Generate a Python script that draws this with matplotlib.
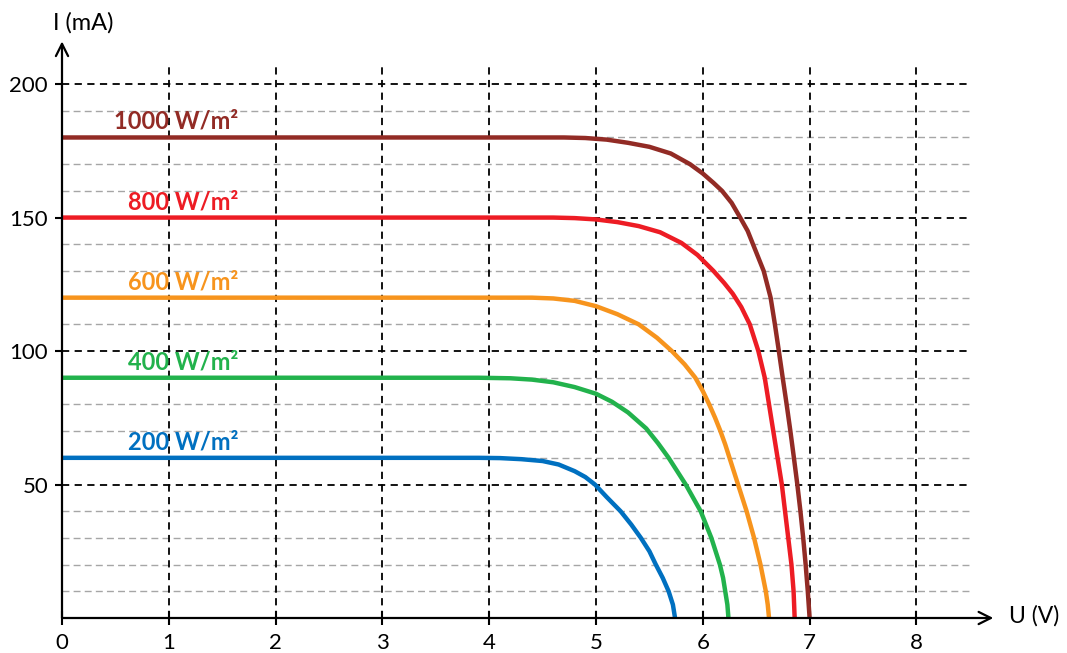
import matplotlib.pyplot as plt

plt.rcParams['font.family'] = ['Lato', 'DejaVu Sans']

# I-V curves: voltage (V) and current (mA)
v_1000 = [0, 4.7, 4.9, 5.1, 5.3, 5.5, 5.7, 5.88, 6.0, 6.1, 6.18, 6.27, 6.35, 6.42, 6.47,
          6.52, 6.57, 6.635, 6.675, 6.712, 6.748, 6.785, 6.82, 6.853, 6.885, 6.914, 6.94, 6.963, 6.983, 7.0]
i_1000 = [180, 180, 179.8, 179.2, 178, 176.5, 174, 170, 166.5, 163, 160, 155.5, 150, 145, 140,
          135, 130, 120, 110, 100, 90, 80, 70, 60, 50, 40, 30, 20, 10, 0]

v_800 = [0, 4.6, 4.8, 5.0, 5.2, 5.4, 5.6, 5.8, 5.95, 6.1, 6.2, 6.28, 6.36, 6.44, 6.52,
         6.58, 6.62, 6.66, 6.70, 6.74, 6.77, 6.80, 6.83, 6.85, 6.86]
i_800 = [150, 150, 149.8, 149.3, 148.3, 146.8, 144.5, 140.5, 136, 130, 125.5, 121.5, 116.5, 110, 100,
         90, 80, 70, 60, 50, 40, 30, 20, 10, 0]

v_600 = [0, 4.4, 4.6, 4.8, 5.0, 5.2, 5.4, 5.57, 5.71, 5.83, 5.93, 6.0, 6.06, 6.115, 6.165,
         6.21, 6.25, 6.29, 6.33, 6.37, 6.41, 6.445, 6.48, 6.51, 6.54, 6.565, 6.59, 6.608, 6.62]
i_600 = [120, 120, 119.7, 118.8, 116.8, 113.8, 110, 105, 100, 95, 90, 85, 80, 75, 70,
         65, 60, 55, 50, 45, 40, 35, 30, 25, 20, 15, 10, 5, 0]

v_400 = [0, 3.9, 4.2, 4.4, 4.6, 4.8, 5.0, 5.15, 5.3, 5.47, 5.58, 5.68, 5.76, 5.84, 5.91,
         5.98, 6.03, 6.08, 6.12, 6.16, 6.19, 6.21, 6.23, 6.24]
i_400 = [90, 90, 89.8, 89.3, 88.3, 86.5, 84, 81, 77, 71, 65.5, 60, 55, 50, 45,
         40, 35, 30, 25, 20, 15, 10, 5, 0]

v_200 = [0, 3.9, 4.1, 4.3, 4.5, 4.65, 4.8, 4.9, 4.99, 5.1, 5.23, 5.33, 5.42, 5.5, 5.56,
         5.625, 5.68, 5.72, 5.74]
i_200 = [60, 60, 59.9, 59.5, 58.8, 57.5, 55, 52.8, 50, 45.3, 40, 35, 30, 25, 20,
         15, 10, 5, 0]

labels = ['1000 W/m²', '800 W/m²', '600 W/m²', '400 W/m²', '200 W/m²']
colors = ['#922B25', '#ED1C24', '#F7941D', '#22B24C', '#0070C0']
x_ticks = [0, 1, 2, 3, 4, 5, 6, 7, 8]
y_ticks = [50, 100, 150, 200]

fig = plt.figure(figsize=(10.67, 6.53), dpi=100)
ax = fig.add_axes([62 / 1067, 35 / 653, 1005 / 1067, 618 / 653])
ax.set_xlim(0, 9.41)
ax.set_ylim(0, 231.5)
for s in ax.spines.values():
    s.set_visible(False)

# grid
minor = [y for y in range(10, 200, 10) if y % 50 != 0]
ax.hlines(minor, 0, 8.5, colors='#a6a6a6', linestyles=(0, (5, 3)), lw=1.0, zorder=1)
ax.hlines(y_ticks, 0, 8.5, colors='black', linestyles=(0, (4, 3)), lw=1.3, zorder=1)
ax.vlines(x_ticks[1:], 0, 208, colors='black', linestyles=(0, (4, 3)), lw=1.3, zorder=1)

# curves
curves = [(v_1000, i_1000), (v_800, i_800), (v_600, i_600), (v_400, i_400), (v_200, i_200)]
for (v, i), lab, c in zip(curves, labels, colors):
    ax.plot(v, i, color=c, lw=3.2, solid_joinstyle='round', solid_capstyle='butt', zorder=3)
    ax.text(1.65, i[0] + 6, lab, color=c, fontsize=17, fontweight='bold',
            ha='right', va='center', zorder=4)

# axes with arrows
ax.annotate('', xy=(8.72, 0), xytext=(0, 0),
            arrowprops=dict(arrowstyle='->', lw=1.6, color='black', mutation_scale=22,
                            shrinkA=0, shrinkB=0), annotation_clip=False, zorder=5)
ax.annotate('', xy=(0, 216), xytext=(0, 0),
            arrowprops=dict(arrowstyle='->', lw=1.6, color='black', mutation_scale=22,
                            shrinkA=0, shrinkB=0), annotation_clip=False, zorder=5)

ax.set_xticks(x_ticks)
ax.set_yticks(y_ticks)
ax.tick_params(axis='x', direction='inout', length=10, width=1.5, pad=6, labelsize=16)
ax.tick_params(axis='y', direction='out', length=5, width=1.5, pad=5, labelsize=16)

ax.text(8.87, 1, 'U (V)', fontsize=16.5, ha='left', va='center')
ax.text(-0.085, 223, 'I (mA)', fontsize=17, ha='left', va='center')

fig.savefig('out.png', dpi=100)
